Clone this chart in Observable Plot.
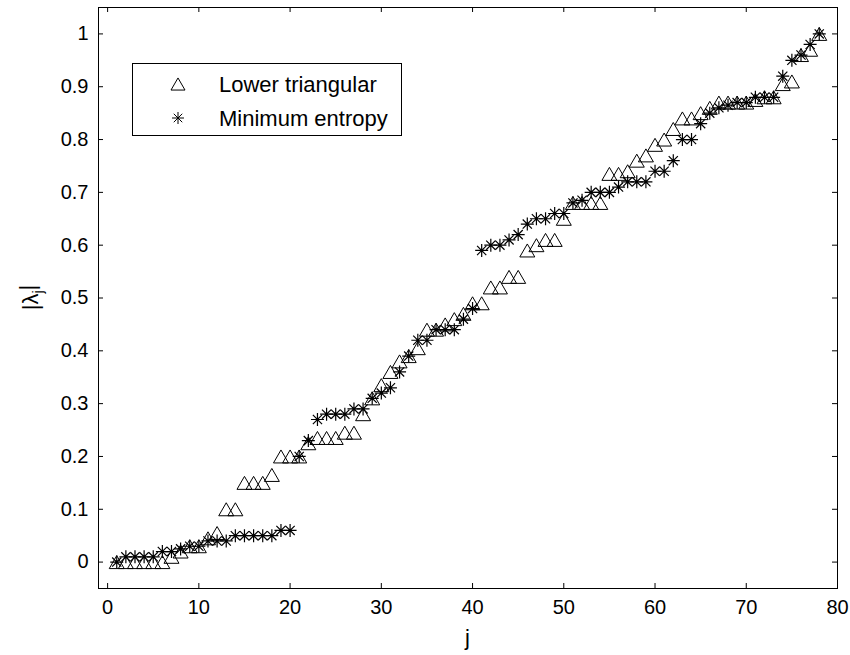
<!DOCTYPE html>
<html><head><meta charset="utf-8">
<script src="https://cdn.jsdelivr.net/npm/d3@7"></script>
<script src="https://cdn.jsdelivr.net/npm/@observablehq/plot@0.6"></script>
<style>
body{margin:0;background:#fff}
#chart{position:relative;width:850px;height:655px}
</style>
</head><body><div id="chart"></div>
<script>
const jValues = d3.range(1, 79);
const lowerTriangular = [0,0,0,0,0,0,0.01,0.02,0.03,0.03,0.045,0.055,0.10,0.10,0.15,0.15,0.15,0.165,0.20,0.20,
  0.20,0.225,0.235,0.235,0.235,0.245,0.245,0.28,0.31,0.335,0.36,0.38,0.39,0.405,0.44,0.44,0.45,0.46,0.47,0.49,
  0.49,0.52,0.52,0.54,0.54,0.59,0.60,0.61,0.61,0.65,0.68,0.68,0.68,0.68,0.735,0.735,0.74,0.76,0.77,0.79,
  0.80,0.82,0.84,0.84,0.85,0.86,0.87,0.87,0.87,0.87,0.875,0.88,0.88,0.905,0.91,0.96,0.97,1.0];
const minimumEntropy = [0,0.01,0.01,0.01,0.01,0.02,0.02,0.025,0.03,0.03,0.04,0.04,0.04,0.05,0.05,0.05,0.05,0.05,0.06,0.06,
  0.20,0.23,0.27,0.28,0.28,0.28,0.29,0.29,0.31,0.32,0.33,0.36,0.39,0.42,0.42,0.44,0.44,0.44,0.46,0.48,
  0.59,0.60,0.60,0.61,0.62,0.64,0.65,0.65,0.66,0.66,0.68,0.685,0.70,0.70,0.70,0.71,0.72,0.72,0.72,0.74,
  0.74,0.76,0.80,0.80,0.83,0.85,0.86,0.865,0.87,0.87,0.88,0.88,0.88,0.92,0.95,0.96,0.98,1.0];
const xTicks = [0,10,20,30,40,50,60,70,80];
const yTicks = [0,0.1,0.2,0.3,0.4,0.5,0.6,0.7,0.8,0.9,1];
const seriesNames = ["Lower triangular", "Minimum entropy"];

const ltData = jValues.map((j, i) => ({j, v: lowerTriangular[i]}));
const meData = jValues.map((j, i) => ({j, v: minimumEntropy[i]}));

const triangle = {draw(ctx, size) {
  const r = Math.sqrt(size / Math.PI), h = r * 0.866;
  ctx.moveTo(0, -h); ctx.lineTo(r, h); ctx.lineTo(-r, h); ctx.closePath();
}};
const asterisk = {draw(ctx, size) {
  const r = Math.sqrt(size / Math.PI), d = r * 0.7071;
  ctx.moveTo(-r, 0); ctx.lineTo(r, 0);
  ctx.moveTo(0, -r); ctx.lineTo(0, r);
  ctx.moveTo(-d, -d); ctx.lineTo(d, d);
  ctx.moveTo(-d, d); ctx.lineTo(d, -d);
}};

const W = 850, H = 655, mT = 7, mB = 67, mL = 98, mR = 13;
const fh = H - mT - mB, fw = W - mL - mR, tk = 5;
const font = "'Liberation Sans', Arial, Helvetica, sans-serif";

const plot = Plot.plot({
  width: W, height: H,
  marginTop: mT, marginBottom: mB, marginLeft: mL, marginRight: mR,
  style: {fontSize: "20px", fontFamily: font, color: "black", background: "white"},
  x: {domain: [-1, 80]},
  y: {domain: [-0.05, 1.05]},
  marks: [
    Plot.axisX({ticks: xTicks, tickSize: 0, tickPadding: 11, label: null, tickFormat: d => String(d)}),
    Plot.axisY({ticks: yTicks, tickSize: 0, tickPadding: 10, label: null, tickFormat: d => String(d)}),
    Plot.tickX(xTicks, {x: d => d, insetTop: fh - tk, stroke: "black"}),
    Plot.tickX(xTicks, {x: d => d, insetBottom: fh - tk, stroke: "black"}),
    Plot.tickY(yTicks, {y: d => d, insetRight: fw - tk, stroke: "black"}),
    Plot.tickY(yTicks, {y: d => d, insetLeft: fw - tk, stroke: "black"}),
    Plot.dot(ltData, {x: "j", y: "v", symbol: triangle, r: 7.5, stroke: "black", strokeWidth: 1, fill: "none"}),
    Plot.dot(meData, {x: "j", y: "v", symbol: asterisk, r: 6.5, stroke: "black", strokeWidth: 1.2, fill: "none"}),
    Plot.frame({stroke: "black", strokeWidth: 1})
  ]
});
document.getElementById("chart").appendChild(plot);

const svg = d3.select(plot);
// axis labels
svg.append("text").attr("x", mL + fw / 2).attr("y", 645).attr("text-anchor", "middle")
  .attr("font-size", 22).attr("font-family", font).attr("fill", "black").text("j");
const yl = svg.append("text").attr("transform", `translate(38,${mT + fh / 2}) rotate(-90)`)
  .attr("text-anchor", "middle").attr("font-size", 22).attr("font-family", font).attr("fill", "black");
yl.append("tspan").text("|λ");
yl.append("tspan").attr("font-size", 14).attr("dy", "0.35em").text("j");
yl.append("tspan").attr("dy", "-0.35em").text("|");

// legend
const lg = svg.append("g");
lg.append("rect").attr("x", 132.5).attr("y", 63.5).attr("width", 269).attr("height", 72)
  .attr("fill", "white").attr("stroke", "black");
const syms = [triangle, asterisk], rs = [7, 6];
seriesNames.forEach((name, i) => {
  const cy = 84 + i * 34;
  lg.append("path").attr("transform", `translate(178,${cy})`)
    .attr("d", d3.symbol(syms[i], rs[i] * rs[i] * Math.PI)())
    .attr("fill", "none").attr("stroke", "black");
  lg.append("text").attr("x", 219).attr("y", cy + 7.5).attr("font-size", 22)
    .attr("text-anchor", "start").attr("font-family", font).attr("fill", "black").text(name);
});
</script>
</body></html>
